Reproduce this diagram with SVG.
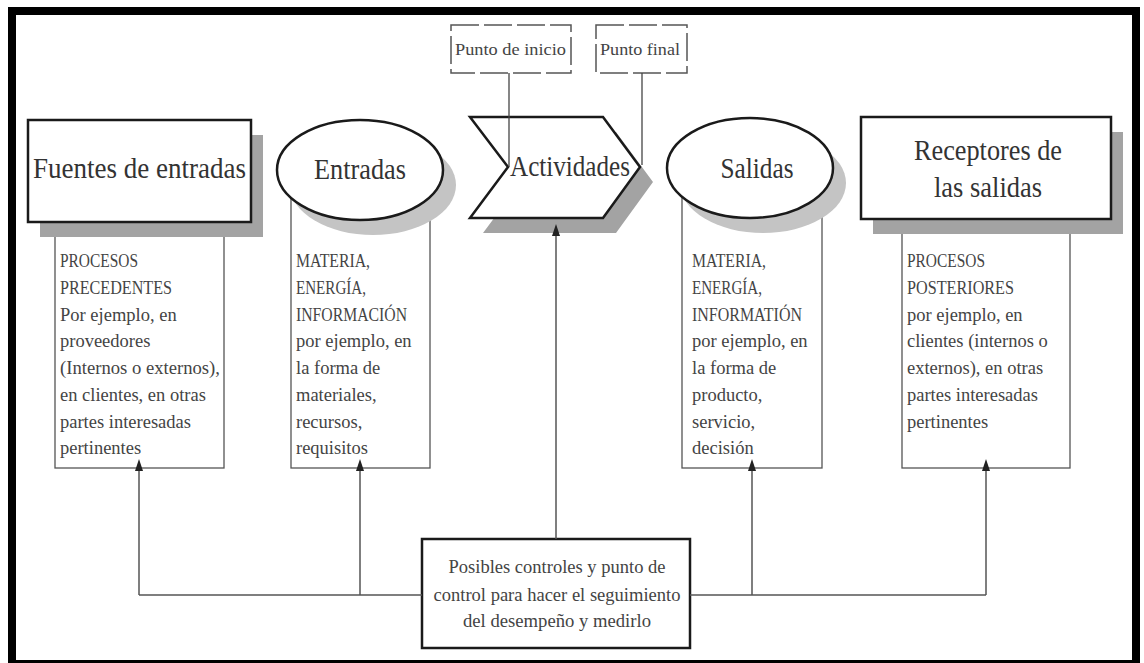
<svg xmlns="http://www.w3.org/2000/svg" width="1144" height="663" viewBox="0 0 1144 663">
  <defs>
    <marker id="arrow" markerUnits="userSpaceOnUse" markerWidth="8" markerHeight="12" refX="4" refY="12" orient="0" viewBox="0 0 8 12">
      <path d="M0,12 L4,0 L8,12 Z" fill="#222"/>
    </marker>
    <style>
      .frame { fill: none; stroke: #000; stroke-width: 8; }
      .shape { fill: #fff; stroke: #1a1a1a; stroke-width: 2.5; }
      .shadow { fill: #a3a3a3; }
      .eshadow { fill: #c4c4c4; }
      .detail { fill: #fff; stroke: #555; stroke-width: 1.3; }
      .tag { fill: #fff; stroke: #555; stroke-width: 1.5; stroke-dasharray: 28 5; }
      .title { font-family: "Liberation Serif", "Times New Roman", serif; font-size: 29px; fill: #333; text-anchor: middle; }
      .body { font-family: "Liberation Serif", "Times New Roman", serif; font-size: 18.5px; fill: #444; }
      .small { font-family: "Liberation Serif", "Times New Roman", serif; font-size: 17px; fill: #444; text-anchor: middle; }
      .ctrl { font-family: "Liberation Serif", "Times New Roman", serif; font-size: 19px; fill: #444; text-anchor: middle; }
      .link { fill: none; stroke: #555; stroke-width: 1.5; }
      .guide { fill: none; stroke: #444; stroke-width: 1.3; }
    </style>
  </defs>

  <rect width="1144" height="663" fill="#fff"/>
  <rect class="frame" x="12" y="11" width="1124" height="653"/>

  <!-- detail panels below the headers -->
  <g id="fuentes-detail">
    <rect class="detail" x="55" y="228" width="169" height="240"/>
    <text class="body" x="60" y="267" textLength="78" lengthAdjust="spacingAndGlyphs">PROCESOS</text>
    <text class="body" x="60" y="294" textLength="112" lengthAdjust="spacingAndGlyphs">PRECEDENTES</text>
    <text class="body" x="60" y="321">Por ejemplo, en</text>
    <text class="body" x="60" y="347">proveedores</text>
    <text class="body" x="60" y="374" textLength="160" lengthAdjust="spacingAndGlyphs">(Internos o externos),</text>
    <text class="body" x="60" y="401">en clientes, en otras</text>
    <text class="body" x="60" y="428">partes interesadas</text>
    <text class="body" x="60" y="454">pertinentes</text>
  </g>
  <g id="entradas-detail">
    <rect class="detail" x="291" y="190" width="139" height="278"/>
    <text class="body" x="296" y="267" textLength="74" lengthAdjust="spacingAndGlyphs">MATERIA,</text>
    <text class="body" x="296" y="294" textLength="70" lengthAdjust="spacingAndGlyphs">ENERGÍA,</text>
    <text class="body" x="296" y="321" textLength="111" lengthAdjust="spacingAndGlyphs">INFORMACIÓN</text>
    <text class="body" x="296" y="347">por ejemplo, en</text>
    <text class="body" x="296" y="374">la forma de</text>
    <text class="body" x="296" y="401">materiales,</text>
    <text class="body" x="296" y="428">recursos,</text>
    <text class="body" x="296" y="454">requisitos</text>
  </g>
  <g id="salidas-detail">
    <rect class="detail" x="682" y="190" width="140" height="278"/>
    <text class="body" x="692" y="267" textLength="74" lengthAdjust="spacingAndGlyphs">MATERIA,</text>
    <text class="body" x="692" y="294" textLength="70" lengthAdjust="spacingAndGlyphs">ENERGÍA,</text>
    <text class="body" x="692" y="321" textLength="110" lengthAdjust="spacingAndGlyphs">INFORMATIÓN</text>
    <text class="body" x="692" y="347">por ejemplo, en</text>
    <text class="body" x="692" y="374">la forma de</text>
    <text class="body" x="692" y="401">producto,</text>
    <text class="body" x="692" y="428">servicio,</text>
    <text class="body" x="692" y="454">decisión</text>
  </g>
  <g id="receptores-detail">
    <rect class="detail" x="902" y="228" width="168" height="240"/>
    <text class="body" x="907" y="267" textLength="78" lengthAdjust="spacingAndGlyphs">PROCESOS</text>
    <text class="body" x="907" y="294" textLength="107" lengthAdjust="spacingAndGlyphs">POSTERIORES</text>
    <text class="body" x="907" y="321">por ejemplo, en</text>
    <text class="body" x="907" y="347">clientes (internos o</text>
    <text class="body" x="907" y="374">externos), en otras</text>
    <text class="body" x="907" y="401">partes interesadas</text>
    <text class="body" x="907" y="428">pertinentes</text>
  </g>

  <!-- header shapes -->
  <g id="fuentes">
    <rect class="shadow" x="40" y="135" width="223" height="102"/>
    <rect class="shape" x="28" y="120" width="223" height="102"/>
    <text class="title" x="139.5" y="178" textLength="213" lengthAdjust="spacingAndGlyphs">Fuentes de entradas</text>
  </g>
  <g id="entradas">
    <ellipse class="eshadow" cx="373" cy="185" rx="83" ry="50"/>
    <ellipse class="shape" cx="360" cy="170" rx="83" ry="50"/>
    <text class="title" x="360" y="179" textLength="92" lengthAdjust="spacingAndGlyphs">Entradas</text>
  </g>
  <g id="actividades">
    <polygon class="shadow" points="483,132 616,132 653,182 616,233 483,233 521,182"/>
    <polygon class="shape" points="470,117 603,117 640,167 603,218 470,218 508,167"/>
    <text class="title" x="570" y="176" textLength="120" lengthAdjust="spacingAndGlyphs">Actividades</text>
  </g>
  <g id="salidas">
    <ellipse class="eshadow" cx="763" cy="183" rx="83" ry="50"/>
    <ellipse class="shape" cx="750" cy="168" rx="83" ry="50"/>
    <text class="title" x="757" y="178" textLength="73" lengthAdjust="spacingAndGlyphs">Salidas</text>
  </g>
  <g id="receptores">
    <rect class="shadow" x="873" y="132" width="250" height="102"/>
    <rect class="shape" x="861" y="117" width="250" height="102"/>
    <text class="title" x="988" y="160" textLength="148" lengthAdjust="spacingAndGlyphs">Receptores de</text>
    <text class="title" x="988" y="197" textLength="108" lengthAdjust="spacingAndGlyphs">las salidas</text>
  </g>

  <!-- dashed markers above the activity -->
  <g id="punto-inicio">
    <rect class="tag" x="451" y="25" width="120" height="48"/>
    <text class="small" x="510.5" y="55" textLength="111" lengthAdjust="spacingAndGlyphs">Punto de inicio</text>
  </g>
  <g id="punto-final">
    <rect class="tag" x="596" y="25" width="91" height="48"/>
    <text class="small" x="640" y="55" textLength="80" lengthAdjust="spacingAndGlyphs">Punto final</text>
  </g>

  <!-- monitoring control -->
  <g id="control">
    <rect class="shape" x="422" y="539" width="268" height="109"/>
    <text class="ctrl" x="557" y="573" textLength="217" lengthAdjust="spacingAndGlyphs">Posibles controles y punto de</text>
    <text class="ctrl" x="557" y="601" textLength="247" lengthAdjust="spacingAndGlyphs">control para hacer el seguimiento</text>
    <text class="ctrl" x="557" y="627" textLength="188" lengthAdjust="spacingAndGlyphs">del desempeño y medirlo</text>
  </g>

  <g id="connectors">
    <line class="guide" x1="509" y1="73" x2="509" y2="167"/>
    <line class="guide" x1="642" y1="73" x2="642" y2="165"/>
    <line class="link" x1="556" y1="539" x2="556" y2="236" marker-end="url(#arrow)"/>
    <path class="link" d="M422,595 H139"/>
    <path class="link" d="M690,595 H986"/>
    <line class="link" x1="139" y1="595" x2="139" y2="471" marker-end="url(#arrow)"/>
    <line class="link" x1="360" y1="595" x2="360" y2="471" marker-end="url(#arrow)"/>
    <line class="link" x1="752" y1="595" x2="752" y2="471" marker-end="url(#arrow)"/>
    <line class="link" x1="986" y1="595" x2="986" y2="471" marker-end="url(#arrow)"/>
  </g>
</svg>
